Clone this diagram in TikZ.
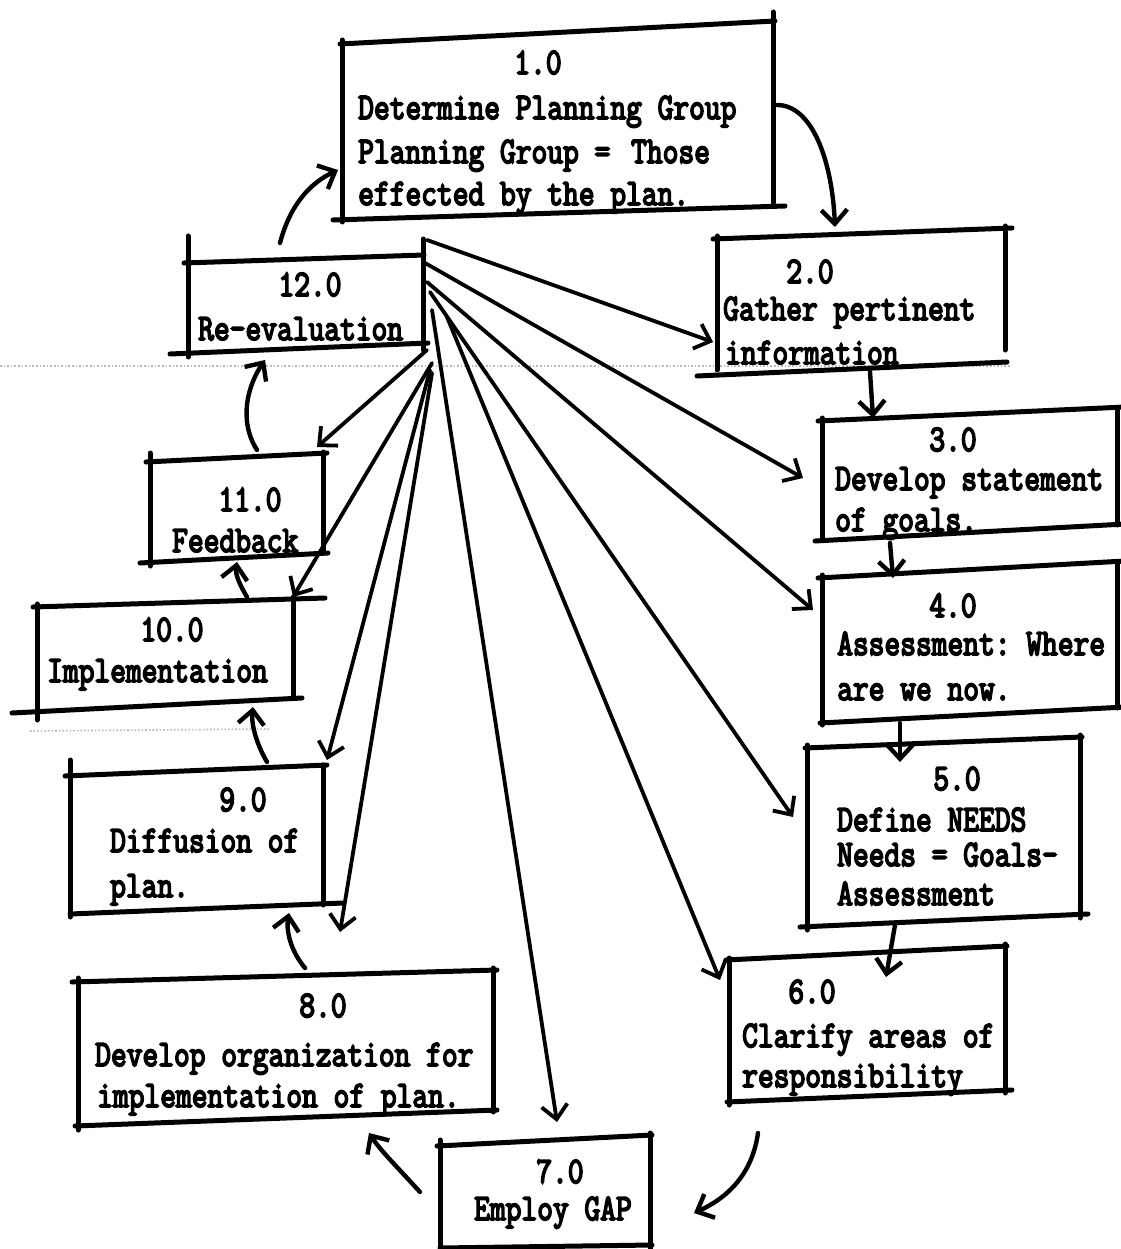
\documentclass[tikz,border=0pt]{standalone}
\usepackage{fontspec}
\usetikzlibrary{arrows.meta}
\newfontfamily\twfont{Latin Modern Mono}[FakeBold=5]
\newcommand\tw{\fontsize{30.6}{36}\selectfont\twfont\bfseries\frenchspacing}
\newcommand\T[1]{\scalebox{1}[1.22]{#1}}
\begin{document}
\begin{tikzpicture}[x=1pt,y=-1pt,
  boxline/.style={line width=5pt, line cap=round},
  fanline/.style={line width=3.8pt, line cap=round, -{Straight Barb[length=14pt,width=26pt,line width=3.8pt]}},
  flow/.style={line width=4.4pt, line cap=round, -{Straight Barb[length=14pt,width=26pt,line width=4.4pt]}},
  num/.style={anchor=base, inner sep=0pt, font=\tw},
  txt/.style={anchor=base west, inner sep=0pt, font=\tw},
  artifact/.style={gray!55, dotted, line width=1.6pt}]
\fill[white] (0,0) rectangle (1120,1249);
\useasboundingbox (0,0) rectangle (1120,1249);

% scan artifacts
\draw[artifact] (0,366) -- (1010,366);
\draw[artifact] (30,731) -- (270,729);

% ---------- boxes ----------
% 1.0
\draw[boxline] (340,44) -- (775,21);
\draw[boxline] (773,12) -- (773,203);
\draw[boxline] (333,220) -- (785,206);
\draw[boxline] (342,40) -- (342,222);
\node[num] (n1) at (538,74) {\T{1.0}};
\node[txt] (t1a) at (358,119) {\T{Determine Planning Group}};
\node[txt] (t1b) at (358,163) {\T{Planning Group = \,Those}};
\node[txt] (t1c) at (358,205) {\T{effected by the plan.}};
% 2.0
\draw[boxline] (713,239) -- (1012,228);
\draw[boxline] (1005,226) -- (1005,350);
\draw[boxline] (697,376) -- (1007,362);
\draw[boxline] (717,236) -- (717,370);
\node[num] (n2) at (810,283) {\T{2.0}};
\node[txt] (t2a) at (723,320) {\T{Gather pertinent}};
\node[txt] (t2b) at (725,364) {\T{information}};
% 3.0
\draw[boxline] (818,421) -- (1125,407);
\draw[boxline] (822,418) -- (822,540);
\draw[boxline] (815,541) -- (1125,524);
\draw[boxline] (1117,408) -- (1117,525);
\node[num] (n3) at (953,451) {\T{3.0}};
\node[txt] (t3a) at (835,490) {\T{Develop statement}};
\node[txt] (t3b) at (835,531) {\T{of goals.}};
% 4.0
\draw[boxline] (818,578) -- (1125,561);
\draw[boxline] (822,575) -- (822,725);
\draw[boxline] (820,723) -- (1125,707);
\draw[boxline] (1117,562) -- (1117,708);
\node[num] (n4) at (953,617) {\T{4.0}};
\node[txt] (t4a) at (837,655) {\T{Assessment: Where}};
\node[txt] (t4b) at (837,700) {\T{are we now.}};
% 5.0
\draw[boxline] (805,748) -- (1082,737);
\draw[boxline] (1080,735) -- (1080,918);
\draw[boxline] (800,927) -- (1088,914);
\draw[boxline] (807,745) -- (807,930);
\node[num] (n5) at (957,790) {\T{5.0}};
\node[txt] (t5a) at (837,831) {\T{Define NEEDS}};
\node[txt] (t5b) at (837,866) {\T{Needs = Goals-}};
\node[txt] (t5c) at (837,905) {\T{Assessment}};
% 6.0
\draw[boxline] (726,960) -- (1007,946);
\draw[boxline] (1005,944) -- (1005,1093);
\draw[boxline] (727,1102) -- (1012,1090);
\draw[boxline] (729,958) -- (729,1105);
\node[num] (n6) at (812,1003) {\T{6.0}};
\node[txt] (t6a) at (742,1047) {\T{Clarify areas of}};
\node[txt] (t6b) at (742,1087) {\T{responsibility}};
% 7.0
\draw[boxline] (437,1146) -- (652,1135);
\draw[boxline] (440,1140) -- (440,1252);
\draw[boxline] (650,1133) -- (650,1252);
\draw[boxline] (440,1248) -- (652,1245);
\node[num] (n7) at (560,1183) {\T{7.0}};
\node[txt] (t7a) at (474,1220) {\T{Employ GAP}};
% 8.0
\draw[boxline] (72,982) -- (497,970);
\draw[boxline] (78,978) -- (78,1130);
\draw[boxline] (493,968) -- (493,1112);
\draw[boxline] (75,1126) -- (497,1110);
\node[num] (n8) at (323,1017) {\T{8.0}};
\node[txt] (t8a) at (95,1066) {\T{Develop organization for}};
\node[txt] (t8b) at (97,1107) {\T{implementation of plan.}};
% 9.0
\draw[boxline] (65,776) -- (327,765);
\draw[boxline] (70,760) -- (70,917);
\draw[boxline] (323,765) -- (323,905);
\draw[boxline] (70,914) -- (343,903);
\node[num] (n9) at (243,811) {\T{9.0}};
\node[txt] (t9a) at (110,852) {\T{Diffusion of}};
\node[txt] (t9b) at (110,897) {\T{plan.}};
% 10.0
\draw[boxline] (33,607) -- (325,598);
\draw[boxline] (37,604) -- (37,720);
\draw[boxline] (293,597) -- (293,697);
\draw[boxline] (12,713) -- (302,698);
\node[num] (n10) at (172,641) {\T{10.0}};
\node[txt] (t10a) at (47,682) {\T{Implementation}};
% 11.0
\draw[boxline] (146,462) -- (327,453);
\draw[boxline] (150,453) -- (150,566);
\draw[boxline] (323,452) -- (323,553);
\draw[boxline] (140,563) -- (328,553);
\node[num] (n11) at (250,511) {\T{11.0}};
\node[txt] (t11a) at (172,552) {\T{Feedback}};
% 12.0
\draw[boxline] (184,263) -- (424,255);
\draw[boxline] (188,236) -- (188,357);
\draw[boxline] (423,239) -- (423,350);
\draw[boxline] (170,354) -- (428,343);
\node[num] (n12) at (310,296) {\T{12.0}};
\node[txt] (t12a) at (198,340) {\T{Re-evaluation}};

% ---------- cycle connectors ----------
\coordinate (s12) at (280,243);  \coordinate (e1) at (338,170);
\coordinate (s1) at (777,105);   \coordinate (e2) at (835,227);
\coordinate (s2) at (870,372);   \coordinate (e3) at (873,418);
\coordinate (s3) at (890,543);   \coordinate (e4) at (893,578);
\coordinate (s4) at (900,723);   \coordinate (e5) at (900,762);
\coordinate (s5) at (895,925);   \coordinate (e6) at (886,977);
\coordinate (s6) at (758,1133);  \coordinate (e7) at (694,1213);
\coordinate (s7) at (420,1192);  \coordinate (e8) at (369,1133);
\coordinate (s8) at (305,968);   \coordinate (e9) at (289,913);
\coordinate (s9) at (267,762);   \coordinate (e10) at (253,707);
\coordinate (s10) at (247,597);  \coordinate (e11) at (237,562);
\coordinate (s11) at (257,450);  \coordinate (e12) at (265,360);

\draw[flow] (s12) .. controls (290,205) and (310,183) .. (e1);
\draw[flow] (s1) .. controls (812,105) and (832,160) .. (e2);
\draw[flow] (s2) -- (e3);
\draw[flow] (s3) -- (e4);
\draw[flow] (s4) -- (e5);
\draw[flow] (s5) -- (e6);
\draw[flow] (s6) .. controls (752,1175) and (727,1198) .. (e7);
\draw[flow] (s7) .. controls (400,1170) and (380,1150) .. (e8);
\draw[flow] (s8) .. controls (290,950) and (286,930) .. (e9);
\draw[flow] (s9) .. controls (257,745) and (251,725) .. (e10);
\draw[flow] (s10) .. controls (240,585) and (235,575) .. (e11);
\draw[flow] (s11) .. controls (238,420) and (248,385) .. (e12);

% ---------- fan connectors from 12.0 ----------
\coordinate (hA) at (427,240); \coordinate (tA) at (713,342);
\coordinate (hB) at (425,263); \coordinate (tB) at (803,478);
\coordinate (hC) at (427,282); \coordinate (tC) at (813,610);
\coordinate (hD) at (430,292); \coordinate (tD) at (793,817);
\coordinate (hE) at (447,317); \coordinate (tE) at (720,980);
\coordinate (hF) at (432,310); \coordinate (tF) at (557,1122);
\coordinate (hG) at (427,350); \coordinate (tG) at (317,447);
\coordinate (hH) at (432,363); \coordinate (tH) at (293,597);
\coordinate (hI) at (430,370); \coordinate (tI) at (327,760);
\coordinate (hJ) at (432,373); \coordinate (tJ) at (340,932);

\foreach \a in {A,B,C,D,E,F,G,H,I,J}
  \draw[fanline] (h\a) -- (t\a);
\end{tikzpicture}
\end{document}
